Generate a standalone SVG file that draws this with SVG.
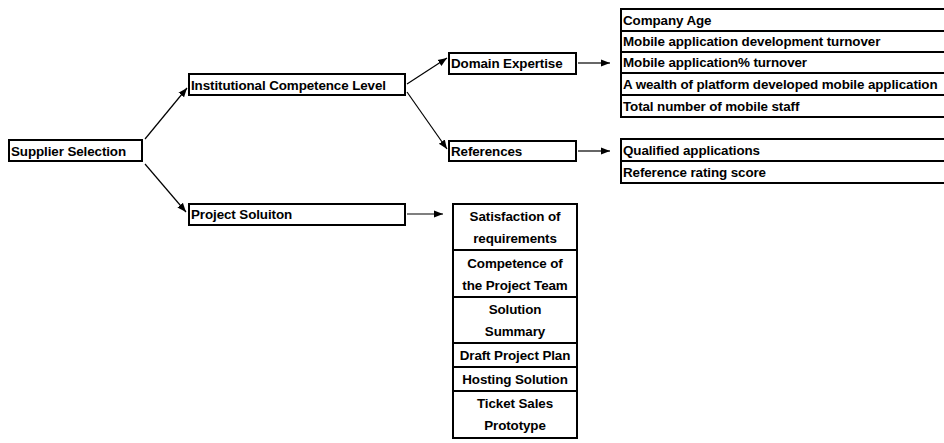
<svg xmlns="http://www.w3.org/2000/svg" width="944" height="443" viewBox="0 0 944 443">
<style>
text{font-family:"Liberation Sans",Arial,sans-serif;font-weight:bold;font-size:13.4px;fill:#000;letter-spacing:-0.1px}
.c{text-anchor:middle}
rect,.row{fill:#fff;stroke:#000;stroke-width:2}
.row{fill:none}
.con line{stroke:#000;stroke-width:1.2;marker-end:url(#ah)}
</style>
<defs>
<marker id="ah" viewBox="0 0 10 10" refX="10" refY="5" markerWidth="9" markerHeight="9" markerUnits="userSpaceOnUse" orient="auto"><path d="M0,1 L10,5 L0,9 Z" fill="#000"/></marker>
</defs>
<rect x="0" y="0" width="944" height="443" style="stroke:none;fill:#fff"/>
<g class="con" id="connectors">
<line x1="145" y1="139" x2="187" y2="88"/>
<line x1="145" y1="164" x2="186" y2="212"/>
<line x1="407" y1="84" x2="447" y2="58"/>
<line x1="407" y1="92" x2="447" y2="149"/>
<line x1="578" y1="63" x2="610" y2="63"/>
<line x1="578" y1="151" x2="610" y2="151"/>
<line x1="407" y1="214" x2="443" y2="214"/>
</g>
<g id="supplier-selection"><rect x="9" y="140" width="133" height="21"/><text x="11" y="156">Supplier Selection</text></g>
<g id="institutional"><rect x="189" y="74" width="216" height="21"/><text x="191" y="90">Institutional Competence Level</text></g>
<g id="project-solution"><rect x="189" y="204" width="216" height="21"/><text x="191" y="219">Project Soluiton</text></g>
<g id="domain-expertise"><rect x="449" y="53" width="127" height="21"/><text x="451" y="68">Domain Expertise</text></g>
<g id="references"><rect x="449" y="141" width="127" height="20"/><text x="451" y="156">References</text></g>
<g id="domain-table">
<rect x="621" y="9" width="340" height="108" style="fill:none"/>
<path class="row" d="M621,31H961M621,52H961M621,73H961M621,95H961"/>
<text x="623" y="25">Company Age</text>
<text x="623" y="46">Mobile application development turnover</text>
<text x="623" y="67">Mobile application% turnover</text>
<text x="623" y="89">A wealth of platform developed mobile application</text>
<text x="623" y="111">Total number of mobile staff</text>
</g>
<g id="references-table">
<rect x="621" y="139" width="340" height="44" style="fill:none"/>
<path class="row" d="M621,161H961"/>
<text x="623" y="155">Qualified applications</text>
<text x="623" y="177">Reference rating score</text>
</g>
<g id="project-table">
<rect x="453" y="204" width="124" height="234" style="fill:none"/>
<path class="row" d="M453,250H577M453,297H577M453,343H577M453,367H577M453,391H577"/>
<text class="c" x="515" y="221">Satisfaction of</text>
<text class="c" x="515" y="243">requirements</text>
<text class="c" x="515" y="268">Competence of</text>
<text class="c" x="515" y="290">the Project Team</text>
<text class="c" x="515" y="314">Solution</text>
<text class="c" x="515" y="336">Summary</text>
<text class="c" x="515" y="360">Draft Project Plan</text>
<text class="c" x="515" y="384">Hosting Solution</text>
<text class="c" x="515" y="408">Ticket Sales</text>
<text class="c" x="515" y="430">Prototype</text>
</g>
</svg>
